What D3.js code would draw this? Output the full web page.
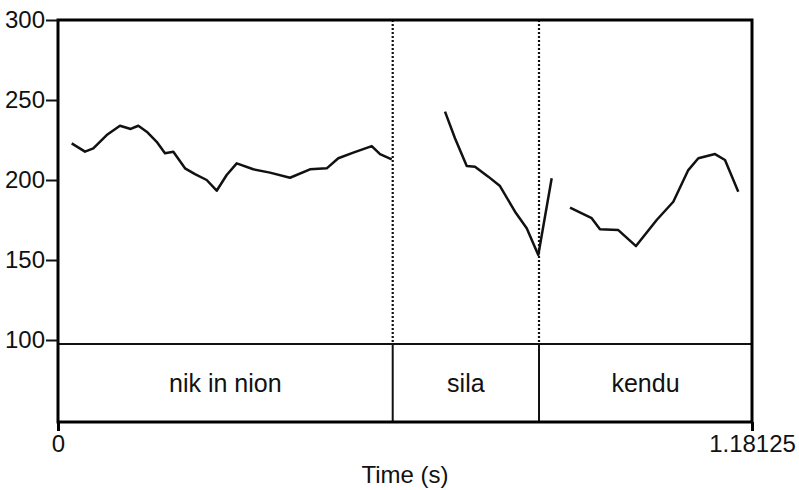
<!DOCTYPE html>
<html>
<head>
<meta charset="utf-8">
<script src="https://cdn.jsdelivr.net/npm/d3@7"></script>
<style>
body { margin: 0; background: #fff; }
text { font-family: Arial, "Liberation Sans", sans-serif; fill: #111; }
</style>
</head>
<body>
<svg width="799" height="490"></svg>
<script>
// pitch track, three voiced stretches: [time (s), Hz]
var seg1 = [[0.0233,222.9],[0.0460,217.7],[0.0601,219.8],[0.0829,228.1],[0.1055,233.9],[0.1237,231.9],
  [0.1367,233.9],[0.1510,230.2],[0.1680,223.9],[0.1821,216.7],[0.1963,217.7],[0.2162,207.3],
  [0.2332,203.7],[0.2531,200.0],[0.2701,193.3],[0.2871,203.1],[0.3042,210.4],[0.3324,206.7],
  [0.3608,204.6],[0.3949,201.4],[0.4289,206.7],[0.4574,207.3],[0.4771,213.6],[0.5026,217.1],
  [0.5340,221.2],[0.5481,216.2],[0.5680,212.9]];
var seg2 = [[0.6587,242.7],[0.6757,226.1],[0.6957,208.7],[0.7098,208.3],[0.7324,202.1],[0.7523,196.2],
  [0.7779,180.2],[0.7978,169.8],[0.8175,153.1],[0.8403,201.1]];
var seg3 = [[0.8715,182.7],[0.9084,176.1],[0.9225,169.2],[0.9537,168.7],[0.9838,158.7],[1.0190,175.0],
  [1.0473,186.4],[1.0728,206.2],[1.0899,213.6],[1.1183,216.2],[1.1353,212.5],[1.1579,192.7]];

var words = ["nik in nion", "sila", "kendu"];
var bounds = [0, 0.5697, 0.8187, 1.18125];
var yTicks = [100, 150, 200, 250, 300];
var xTicks = [0, 1.18125];

(function() {
var svg = d3.select("svg");
var x0 = 58, x1 = 752, y0 = 20, tierTop = 344, y1 = 422;

var x = d3.scaleLinear().domain([0, 1.18125]).range([x0, x1]);
var y = d3.scaleLinear().domain([100, 300]).range([340, y0]);

// dotted boundaries in the pitch panel
svg.selectAll(".dot-bound")
  .data(bounds.slice(1, 3))
  .enter().append("line")
  .attr("x1", function(d) { return x(d); })
  .attr("x2", function(d) { return x(d); })
  .attr("y1", y0)
  .attr("y2", tierTop)
  .attr("stroke", "#111")
  .attr("stroke-width", 2.2)
  .attr("stroke-dasharray", "2,2");

// tier boundaries
svg.selectAll(".tier-bound")
  .data(bounds.slice(1, 3))
  .enter().append("line")
  .attr("x1", function(d) { return x(d); })
  .attr("x2", function(d) { return x(d); })
  .attr("y1", tierTop)
  .attr("y2", y1)
  .attr("stroke", "#111")
  .attr("stroke-width", 2);

svg.append("line")
  .attr("x1", x0).attr("x2", x1)
  .attr("y1", tierTop).attr("y2", tierTop)
  .attr("stroke", "#111")
  .attr("stroke-width", 2);

svg.selectAll(".word")
  .data(words)
  .enter().append("text")
  .attr("x", function(d, i) { return (x(bounds[i]) + x(bounds[i + 1])) / 2; })
  .attr("y", 392)
  .attr("text-anchor", "middle")
  .style("font-size", "25px")
  .text(function(d) { return d; });

// pitch contour
var line = d3.line()
  .x(function(d) { return x(d[0]); })
  .y(function(d) { return y(d[1]); });

svg.selectAll(".pitch")
  .data([seg1, seg2, seg3])
  .enter().append("path")
  .attr("d", line)
  .attr("fill", "none")
  .attr("stroke", "#111")
  .attr("stroke-width", 2.5)
  .attr("stroke-linejoin", "round");

// frame
svg.append("rect")
  .attr("x", x0).attr("y", y0)
  .attr("width", x1 - x0).attr("height", y1 - y0)
  .attr("fill", "none")
  .attr("stroke", "#000")
  .attr("stroke-width", 3);

var yAxis = svg.append("g")
  .attr("transform", "translate(" + x0 + ",0)")
  .call(d3.axisLeft(y).tickValues(yTicks).tickSize(12).tickPadding(1));
yAxis.select(".domain").remove();
yAxis.selectAll(".tick line").attr("stroke", "#111").attr("stroke-width", 2);
yAxis.selectAll(".tick text")
  .style("font-size", "24px")
  .style("font-family", "Arial, 'Liberation Sans', sans-serif")
  .attr("fill", "#111")
  .attr("dy", "0.3em");

var xAxis = svg.append("g")
  .attr("transform", "translate(0," + y1 + ")")
  .call(d3.axisBottom(x).tickValues(xTicks).tickSize(9).tickPadding(4)
    .tickFormat(function(d) { return d === 0 ? "0" : "1.18125"; }));
xAxis.select(".domain").remove();
xAxis.selectAll(".tick line").attr("stroke", "#000").attr("stroke-width", 3);
xAxis.selectAll(".tick text")
  .style("font-size", "24px")
  .style("font-family", "Arial, 'Liberation Sans', sans-serif")
  .attr("fill", "#111");

svg.append("text")
  .attr("x", 405)
  .attr("y", 483)
  .attr("text-anchor", "middle")
  .style("font-size", "24px")
  .text("Time (s)");
})();
</script>
</body>
</html>
